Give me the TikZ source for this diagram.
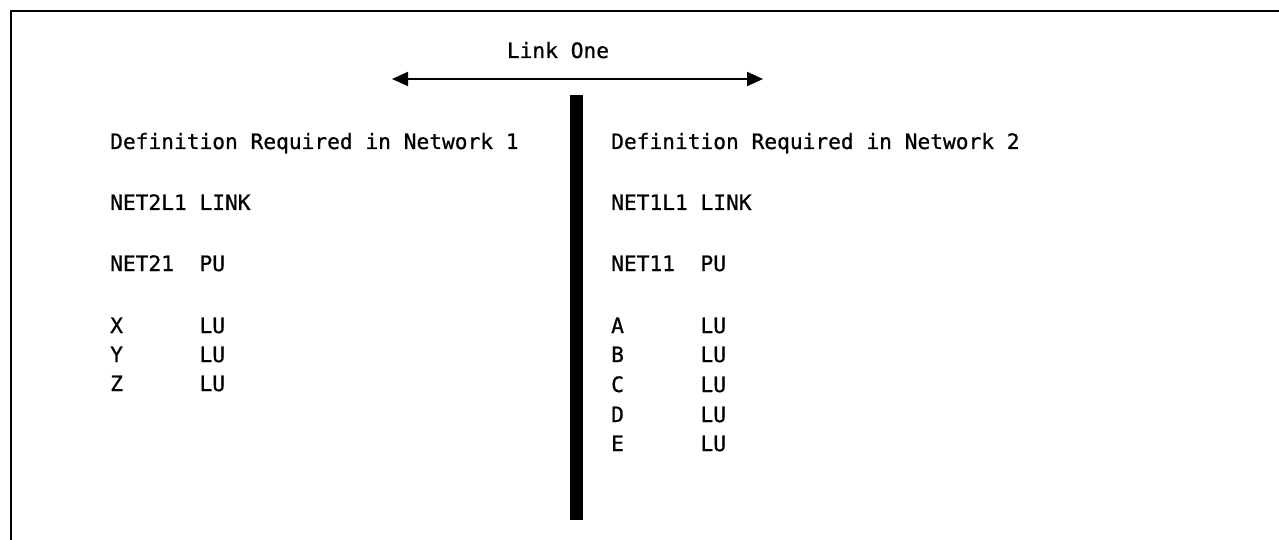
\documentclass[tikz,border=0pt]{standalone}
\usepackage{fontspec}
\setmonofont[FakeBold=0.8]{DejaVu Sans Mono}
\usetikzlibrary{arrows.meta}
\begin{document}
\begin{tikzpicture}[x=1pt,y=-1pt,
  txt/.style={anchor=base west,inner sep=0pt,font=\ttfamily\fontsize{21.2pt}{25pt}\selectfont},
  frame/.style={line width=2pt,black},
  link/.style={line width=2pt,{Triangle[length=16pt,width=14pt]}-{Triangle[length=16pt,width=14pt]}}]
\useasboundingbox (0,0) rectangle (1279,540);
% frame (top and left edges only)
\draw[frame] (1279,11) -- (11,11) -- (11,540);
% link arrow
\coordinate (la) at (392,79);
\coordinate (lb) at (763,79);
\draw[link] (la) -- (lb);
\node[txt,anchor=base] (linkone) at (558,58) {Link One};
% separator bar
\fill[black] (570,95) rectangle (583,520);
% left column
\node[txt] (h1) at (110,149) {Definition Required in Network 1};
\node[txt] (l1) at (110,210) {NET2L1 LINK};
\node[txt] (p1) at (110,271) {NET21\ \ PU};
\node[txt] (x) at (110,333) {X\ \ \ \ \ \ LU};
\node[txt] (y) at (110,362) {Y\ \ \ \ \ \ LU};
\node[txt] (z) at (110,391) {Z\ \ \ \ \ \ LU};
% right column
\node[txt] (h2) at (611,149) {Definition Required in Network 2};
\node[txt] (l2) at (611,210) {NET1L1 LINK};
\node[txt] (p2) at (611,271) {NET11\ \ PU};
\node[txt] (a) at (611,333) {A\ \ \ \ \ \ LU};
\node[txt] (b) at (611,362) {B\ \ \ \ \ \ LU};
\node[txt] (c) at (611,392) {C\ \ \ \ \ \ LU};
\node[txt] (d) at (611,422) {D\ \ \ \ \ \ LU};
\node[txt] (e) at (611,451) {E\ \ \ \ \ \ LU};
\end{tikzpicture}
\end{document}
